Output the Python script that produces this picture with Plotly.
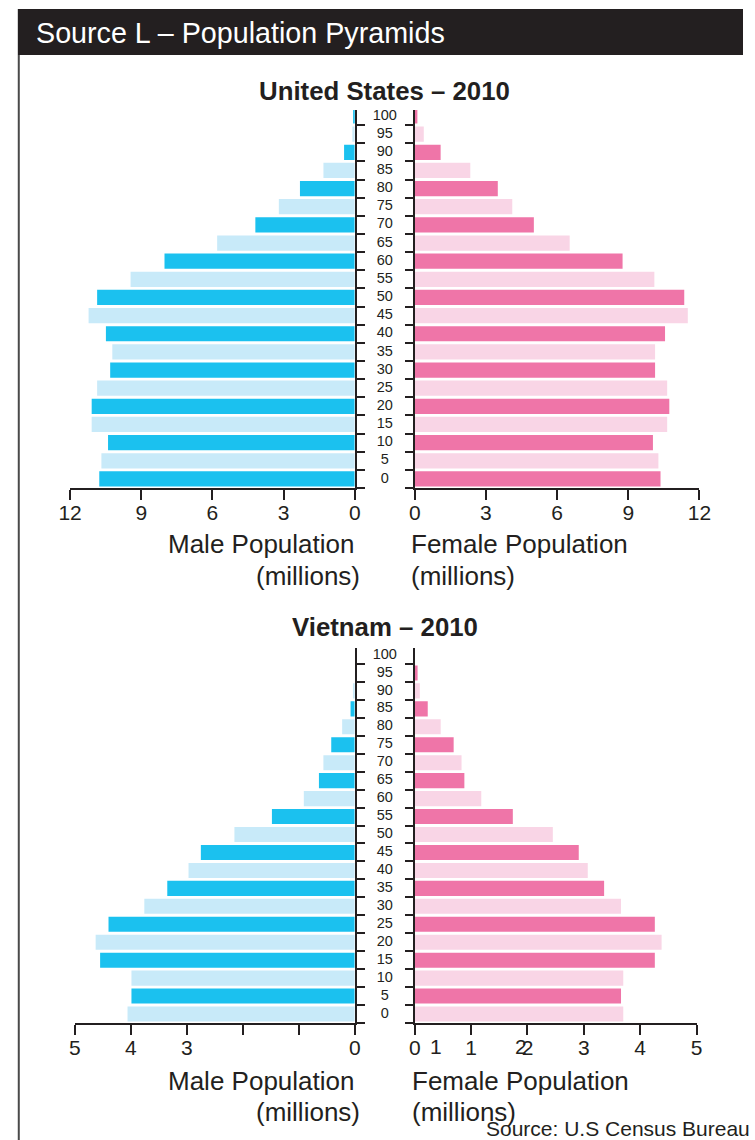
import plotly.graph_objects as go

W, H = 755, 1140

# ---------------- data ----------------
ages = [str(a) for a in range(0, 101, 5)]

us_male = [10.77, 10.68, 10.40, 11.09, 11.09, 10.86, 10.31, 10.22, 10.49, 11.22, 10.86,
           9.45, 8.02, 5.80, 4.19, 3.20, 2.31, 1.32, 0.45, 0.10, 0.05]
us_female = [10.36, 10.27, 10.04, 10.64, 10.73, 10.64, 10.13, 10.13, 10.55, 11.51, 11.36,
             10.10, 8.76, 6.53, 5.02, 4.11, 3.50, 2.34, 1.09, 0.38, 0.11]

vn_male = [4.06, 3.99, 3.99, 4.55, 4.63, 4.40, 3.76, 3.35, 2.97, 2.75, 2.15,
           1.48, 0.91, 0.64, 0.56, 0.42, 0.225, 0.075, 0.03, 0.0, 0.0]
vn_female = [3.70, 3.66, 3.70, 4.26, 4.38, 4.26, 3.66, 3.36, 3.07, 2.91, 2.45,
             1.74, 1.18, 0.88, 0.83, 0.69, 0.46, 0.23, 0.09, 0.05, 0.0]

us_tickvals = [0, 3, 6, 9, 12]
us_ticktext = ["0", "3", "6", "9", "12"]
vn_tickvals = [0, 1, 2, 3, 4, 5]
vn_male_ticktext = ["0", "", "", "3", "4", "5"]
vn_female_ticktext = ["0", "1", "2", "3", "4", "5"]
vn_female_extra_vals = [0.38, 1.88]
vn_female_extra_text = ["1", "2"]

header_text = "Source L \u2013 Population Pyramids"
us_title = "United States \u2013 2010"
vn_title = "Vietnam \u2013 2010"
male_label = "Male Population"
female_label = "Female Population"
unit_label = "(millions)"
source_text = "Source: U.S Census Bureau"

# ---------------- style ----------------
TXT = "#231F20"
FONT = "Liberation Sans, Arial, sans-serif"
M_DARK, M_LIGHT = "#1BC1EF", "#C8EAF9"
F_DARK, F_LIGHT = "#EF75A8", "#F9D5E6"


def fx(x):
    return x / W


def fy(y):
    return 1 - y / H


def colors(n, dark, light, dark_even):
    return [dark if ((i % 2 == 0) == dark_even) else light for i in range(n)]


fig = go.Figure()
layout_axes = {}
annotations = []


def add_pyramid(k, male, female, xmax, male_px, female_px, y_px, ytop,
                dark_even, m_tickvals, m_ticktext, f_tickvals, f_ticktext):
    n = len(ages)
    ids = [k, k + 1, k + 2]
    xa = ["x" if i == 1 else f"x{i}" for i in ids]
    ya = ["y" if i == 1 else f"y{i}" for i in ids]
    ydom = [fy(y_px[0]), fy(y_px[1])]

    fig.add_trace(go.Bar(x=male, y=ages, orientation="h", xaxis=xa[0], yaxis=ya[0],
                         marker=dict(color=colors(n, M_DARK, M_LIGHT, dark_even), line_width=0),
                         showlegend=False, hoverinfo="x+y"))
    fig.add_trace(go.Scatter(x=[0.5] * n, y=ages, mode="text", text=ages,
                             textfont=dict(family=FONT, size=14.5, color=TXT),
                             xaxis=xa[1], yaxis=ya[1], showlegend=False, hoverinfo="skip"))
    fig.add_trace(go.Bar(x=female, y=ages, orientation="h", xaxis=xa[2], yaxis=ya[2],
                         marker=dict(color=colors(n, F_DARK, F_LIGHT, dark_even), line_width=0),
                         showlegend=False, hoverinfo="x+y"))

    common_x = dict(showline=True, linecolor=TXT, linewidth=2, ticks="outside",
                    ticklen=10, tickwidth=2, tickcolor=TXT, zeroline=False, showgrid=False,
                    ticklabelstandoff=-5,
                    tickfont=dict(family=FONT, size=21, color=TXT), fixedrange=True)
    common_y = dict(type="category", categoryorder="array", categoryarray=ages,
                    range=[-0.5, ytop], showline=True, linecolor=TXT, linewidth=2,
                    ticks="outside", tickson="boundaries", ticklen=8, tickwidth=2,
                    tickcolor=TXT, showticklabels=False, showgrid=False, zeroline=False,
                    fixedrange=True)

    def key(prefix, i):
        return prefix + ("" if i == 1 else str(i))

    layout_axes[key("xaxis", ids[0])] = dict(common_x, domain=[fx(male_px[0]), fx(male_px[1])],
                                             range=[xmax, 0], anchor=ya[0],
                                             tickvals=m_tickvals, ticktext=m_ticktext)
    layout_axes[key("yaxis", ids[0])] = dict(common_y, domain=ydom, anchor=xa[0], side="right")

    layout_axes[key("xaxis", ids[1])] = dict(domain=[fx(male_px[1]), fx(female_px[0])],
                                             range=[0, 1], visible=False, anchor=ya[1],
                                             fixedrange=True)
    layout_axes[key("yaxis", ids[1])] = dict(type="category", categoryorder="array",
                                             categoryarray=ages, range=[-0.5, ytop],
                                             domain=ydom, visible=False, anchor=xa[1],
                                             fixedrange=True)

    layout_axes[key("xaxis", ids[2])] = dict(common_x, domain=[fx(female_px[0]), fx(female_px[1])],
                                             range=[0, xmax], anchor=ya[2],
                                             tickvals=f_tickvals, ticktext=f_ticktext)
    layout_axes[key("yaxis", ids[2])] = dict(common_y, domain=ydom, anchor=xa[2], side="left")
    return xa[2], ya[2]


add_pyramid(1, us_male, us_female, 12, (60, 354), (416, 710), (488, 110), 20.33,
            True, us_tickvals, us_ticktext, us_tickvals, us_ticktext)
vn_fx, vn_fy = add_pyramid(4, vn_male, vn_female, 5, (65, 354), (416, 707), (1023, 648), 20.39,
                           False, vn_tickvals, vn_male_ticktext, vn_tickvals, vn_female_ticktext)


def ann(text, x, y, xanchor="center", size=26, color=TXT, bold=False):
    annotations.append(dict(text=f"<b>{text}</b>" if bold else text, x=fx(x), y=fy(y),
                            xref="paper", yref="paper", xanchor=xanchor, yanchor="middle",
                            showarrow=False, font=dict(family=FONT, size=size, color=color)))


ann(header_text, 23, 33, "left", 28.7, "white")
ann(us_title, 385, 91, "center", 25.8, bold=True)
ann(male_label, 355, 544, "right")
ann(unit_label, 361, 576, "right")
ann(female_label, 410, 544, "left")
ann(unit_label, 410, 576, "left")

ann(vn_title, 385, 627, "center", 25.8, bold=True)
ann(male_label, 355, 1081, "right")
ann(unit_label, 361, 1112, "right")
ann(female_label, 411, 1081, "left")
ann(unit_label, 411, 1112, "left")
ann(source_text, 488, 1128, "left", 21)

# misplaced extra tick labels on the Vietnam female axis (as in the original)
for v, t in zip(vn_female_extra_vals, vn_female_extra_text):
    annotations.append(dict(text=t, x=v, xref=vn_fx, y=fy(1046), yref="paper",
                            xanchor="center", yanchor="middle", showarrow=False,
                            font=dict(family=FONT, size=21, color=TXT)))

shapes = [
    dict(type="rect", xref="paper", yref="paper", x0=fx(6), x1=1.0, y0=fy(55), y1=fy(9),
         fillcolor="#231F20", line_width=0, layer="below"),
    dict(type="line", xref="paper", yref="paper", x0=fx(7), x1=fx(7), y0=fy(55), y1=0,
         line=dict(color="#4a4a4a", width=2)),
]

fig.update_layout(
    width=W, height=H, margin=dict(l=0, r=0, t=0, b=0),
    paper_bgcolor="white", plot_bgcolor="white",
    bargap=0.16, showlegend=False,
    font=dict(family=FONT, color=TXT),
    annotations=annotations, shapes=shapes,
    **layout_axes,
)

post = ("document.body.style.margin='0';document.body.style.padding='0';"
        "document.documentElement.style.overflow='hidden';"
        "document.body.style.overflow='hidden';")
fig.write_html("out.html", config={"displayModeBar": False}, post_script=post)
